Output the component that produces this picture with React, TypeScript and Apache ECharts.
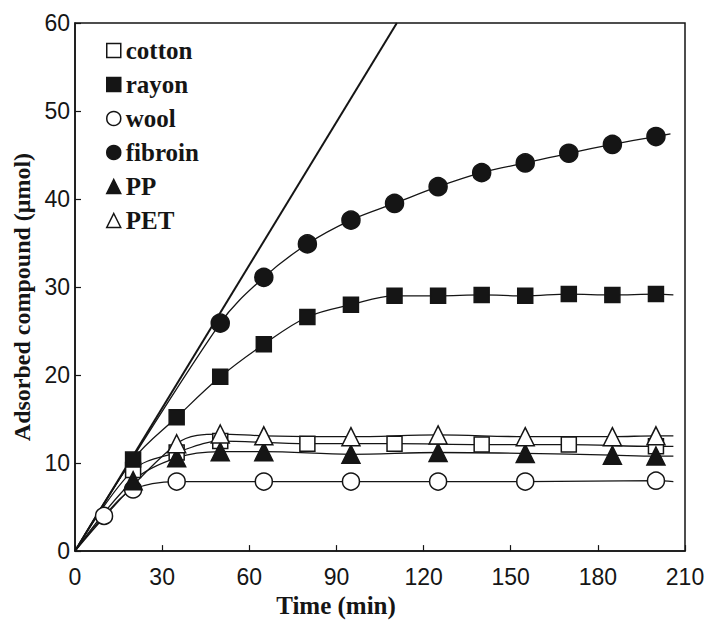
import React, { useEffect, useRef } from "react";
import * as echarts from "echarts";

// Time (min) / adsorbed compound (µmol) pairs
const cotton: number[][] = [[20, 9.2], [35, 11.2], [50, 12.5], [80, 12.2], [110, 12.2], [140, 12.1], [170, 12.1], [200, 11.9]];
const rayon: number[][] = [[20, 10.4], [35, 15.2], [50, 19.8], [65, 23.5], [80, 26.6], [95, 28.0], [110, 29.0], [125, 29.0], [140, 29.1], [155, 29.0], [170, 29.2], [185, 29.1], [200, 29.2]];
const wool: number[][] = [[10, 4.0], [20, 7.0], [35, 7.9], [65, 7.9], [95, 7.9], [125, 7.9], [155, 7.9], [200, 8.0]];
const fibroin: number[][] = [[50, 25.9], [65, 31.1], [80, 34.9], [95, 37.6], [110, 39.5], [125, 41.4], [140, 43.0], [155, 44.1], [170, 45.2], [185, 46.2], [200, 47.1]];
const pp: number[][] = [[20, 8.0], [35, 10.6], [50, 11.3], [65, 11.3], [95, 11.0], [125, 11.2], [155, 11.1], [185, 10.9], [200, 10.8]];
const pet: number[][] = [[35, 12.2], [50, 13.3], [65, 13.1], [95, 13.0], [125, 13.2], [155, 13.0], [185, 13.0], [200, 13.1]];

// fitted-curve end points (curves start at origin and run a bit past the last point)
const curveStart = [0, 0];
const curveEnds: Record<string, number[]> = {
  cotton: [206, 11.9],
  rayon: [206, 29.1],
  wool: [206, 7.9],
  fibroin: [205, 47.4],
  PP: [206, 10.8],
  PET: [206, 13.1],
};

// initial-rate straight line
const initialRateLine: number[][] = [[0, 0], [110.8, 60]];

const xTicks = { min: 0, max: 210, interval: 30 };
const yTicks = { min: 0, max: 60, interval: 10 };

const INK = "#151515";
const SERIF = "'Liberation Serif', 'Times New Roman', serif";
const SANS = "'Liberation Sans', Arial, sans-serif";

type Spec = { name: string; pts: number[][]; symbol: string; size: number; filled: boolean };

const specs: Spec[] = [
  { name: "cotton", pts: cotton, symbol: "rect", size: 15, filled: false },
  { name: "rayon", pts: rayon, symbol: "rect", size: 15, filled: true },
  { name: "wool", pts: wool, symbol: "circle", size: 17, filled: false },
  { name: "fibroin", pts: fibroin, symbol: "circle", size: 18, filled: true },
  { name: "PP", pts: pp, symbol: "triangle", size: 18, filled: true },
  { name: "PET", pts: pet, symbol: "triangle", size: 18, filled: false },
];

export default function App() {
  const ref = useRef<HTMLDivElement>(null);
  useEffect(() => {
    if (!ref.current) return;
    const chart = echarts.init(ref.current, undefined, { renderer: "svg" });

    const series: any[] = [
      {
        type: "line",
        name: "initial",
        data: initialRateLine,
        showSymbol: false,
        symbol: "none",
        lineStyle: { color: INK, width: 2 },
        silent: true,
        z: 1,
      },
    ];
    specs.forEach((s) => {
      const data: any[] = [
        { value: curveStart, symbol: "none" },
        ...s.pts.map((p) => ({ value: p })),
        { value: curveEnds[s.name], symbol: "none" },
      ];
      series.push({
        type: "line",
        name: s.name,
        data,
        smooth: 0.35,
        symbol: s.symbol,
        symbolSize: s.size,
        showAllSymbol: true,
        lineStyle: { color: INK, width: 1.3 },
        itemStyle: {
          color: s.filled ? INK : "#ffffff",
          borderColor: INK,
          borderWidth: 1.5,
        },
        emphasis: { disabled: true },
        z: 2,
      });
    });

    chart.setOption({
      animation: false,
      backgroundColor: "#ffffff",
      grid: {
        left: 75,
        right: 27,
        top: 23,
        bottom: 66,
        show: true,
        borderColor: INK,
        borderWidth: 1.5,
      },
      legend: {
        orient: "vertical",
        left: 101,
        top: 33,
        itemWidth: 14,
        itemHeight: 14,
        itemGap: 9,
        selectedMode: false,
        itemStyle: { borderWidth: 1.5, borderColor: INK },
        textStyle: {
          fontFamily: SERIF,
          fontWeight: "bold",
          fontSize: 25,
          color: INK,
        },
        data: specs.map((s) => ({ name: s.name, icon: s.symbol })),
      },
      xAxis: {
        type: "value",
        min: xTicks.min,
        max: xTicks.max,
        interval: xTicks.interval,
        name: "Time (min)",
        nameLocation: "middle",
        nameGap: 33,
        nameTextStyle: {
          fontFamily: SERIF,
          fontWeight: "bold",
          fontSize: 25,
          color: INK,
          padding: [0, 88, 0, 0],
        },
        axisLine: { lineStyle: { color: INK, width: 1.5 } },
        axisTick: { inside: true, length: 6, lineStyle: { color: INK, width: 1.2 } },
        axisLabel: {
          fontFamily: SANS,
          fontSize: 23,
          color: INK,
          margin: 14,
        },
        splitLine: { show: false },
      },
      yAxis: {
        type: "value",
        min: yTicks.min,
        max: yTicks.max,
        interval: yTicks.interval,
        name: "Adsorbed compound (\u03bcmol)",
        nameLocation: "middle",
        nameGap: 40,
        nameTextStyle: {
          fontFamily: SERIF,
          fontWeight: "bold",
          fontSize: 24,
          color: INK,
          padding: [0, 20, 0, 0],
        },
        axisLine: { lineStyle: { color: INK, width: 1.5 } },
        axisTick: { inside: true, length: 6, lineStyle: { color: INK, width: 1.2 } },
        axisLabel: {
          fontFamily: SANS,
          fontSize: 23,
          color: INK,
          margin: 5,
        },
        splitLine: { show: false },
      },
      series,
    });
    return () => chart.dispose();
  }, []);
  return (
    <div
      ref={ref}
      style={{ position: "fixed", left: 0, top: 0, width: 712, height: 623, background: "#fff" }}
    />
  );
}
